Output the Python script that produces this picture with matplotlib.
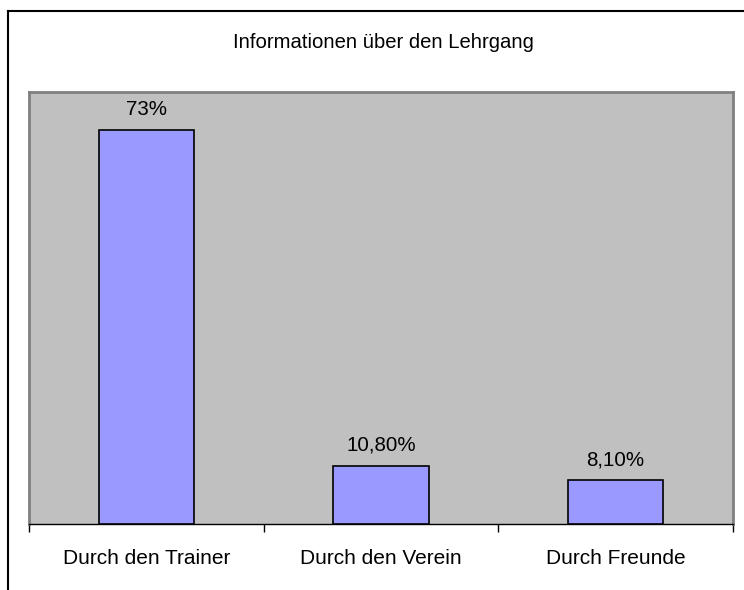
import matplotlib
matplotlib.use("Agg")
import matplotlib.pyplot as plt
from matplotlib.lines import Line2D

categories = ["Durch den Trainer", "Durch den Verein", "Durch Freunde"]
values = [73.0, 10.8, 8.1]
value_labels = ["73%", "10,80%", "8,10%"]

plt.rcParams["font.family"] = ["Liberation Sans", "DejaVu Sans"]

fig = plt.figure(figsize=(7.44, 5.90), dpi=100)
ax = fig.add_axes([29 / 744, 66 / 590, 704 / 744, 432 / 590])
ax.set_facecolor("#C0C0C0")

x = list(range(len(categories)))
bars = ax.bar(x, values, width=0.405, color="#9999FF", edgecolor="black", linewidth=1.2, zorder=3)
for b, lab in zip(bars, value_labels):
    ax.annotate(lab, (b.get_x() + b.get_width() / 2, b.get_height()),
                xytext=(0, 8), textcoords="offset points", ha="center", va="bottom",
                fontsize=14.8)

ax.set_xlim(-0.5, len(categories) - 0.5)
ax.set_ylim(0, 80)
ax.set_yticks([])
ax.set_xticks(x)
ax.set_xticklabels(categories, fontsize=15)
ax.tick_params(axis="x", length=0, pad=18)
ax.set_xticks([i - 0.5 for i in range(len(categories) + 1)], minor=True)
ax.tick_params(axis="x", which="minor", length=5.5, width=1, color="black", direction="out")

for side in ["top", "left", "right"]:
    ax.spines[side].set_color("#808080")
    ax.spines[side].set_linewidth(2)
ax.spines["bottom"].set_color("black")
ax.spines["bottom"].set_linewidth(1)

fig.text(383 / 744, 1 - 43 / 590, "Informationen über den Lehrgang", ha="center", va="center", fontsize=14.6)

# outer chart border (left + top visible)
fig.add_artist(Line2D([8 / 744, 8 / 744], [0, 1 - 11 / 590], color="black", linewidth=1.5, transform=fig.transFigure))
fig.add_artist(Line2D([8 / 744, 1], [1 - 11 / 590, 1 - 11 / 590], color="black", linewidth=1.5, transform=fig.transFigure))

fig.savefig("out.png", dpi=100, facecolor="white")
